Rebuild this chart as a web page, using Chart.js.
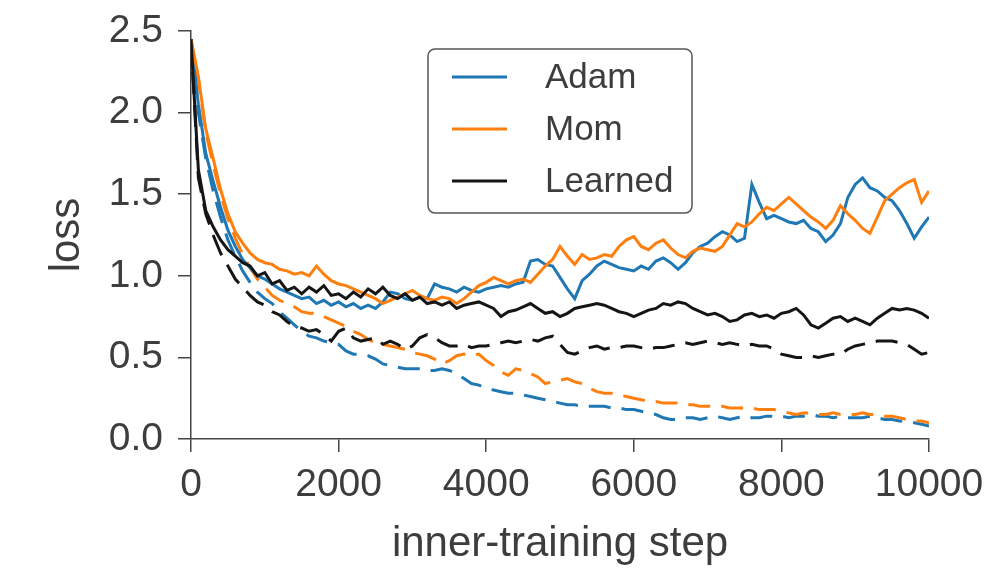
<!DOCTYPE html>
<html>
<head>
<meta charset="utf-8">
<script src="https://cdn.jsdelivr.net/npm/chart.js@4.4.1/dist/chart.umd.min.js"></script>
<style>
  html, body { margin: 0; padding: 0; background: #fff; }
  #wrap { width: 996px; height: 570px; }
</style>
</head>
<body>
<div id="wrap"><canvas id="lossChart" width="996" height="570"></canvas></div>
<script>
// inner-training steps (every 100 steps)
var steps = [
  0, 100, 200, 300, 400, 500, 600, 700, 800, 900,
  1000, 1100, 1200, 1300, 1400, 1500, 1600, 1700, 1800, 1900,
  2000, 2100, 2200, 2300, 2400, 2500, 2600, 2700, 2800, 2900,
  3000, 3100, 3200, 3300, 3400, 3500, 3600, 3700, 3800, 3900,
  4000, 4100, 4200, 4300, 4400, 4500, 4600, 4700, 4800, 4900,
  5000, 5100, 5200, 5300, 5400, 5500, 5600, 5700, 5800, 5900,
  6000, 6100, 6200, 6300, 6400, 6500, 6600, 6700, 6800, 6900,
  7000, 7100, 7200, 7300, 7400, 7500, 7600, 7700, 7800, 7900,
  8000, 8100, 8200, 8300, 8400, 8500, 8600, 8700, 8800, 8900,
  9000, 9100, 9200, 9300, 9400, 9500, 9600, 9700, 9800, 9900,
  10000
];

var adamSolid = [
  2.45, 2.05, 1.75, 1.58, 1.42, 1.28, 1.18, 1.10, 1.05, 1.00,
  0.98, 0.95, 0.92, 0.90, 0.88, 0.86, 0.87, 0.83, 0.85, 0.82,
  0.84, 0.81, 0.83, 0.80, 0.82, 0.80, 0.84, 0.90, 0.89, 0.86,
  0.85, 0.87, 0.86, 0.95, 0.93, 0.92, 0.90, 0.93, 0.91, 0.90,
  0.92, 0.93, 0.94, 0.93, 0.95, 0.96, 1.09, 1.10, 1.07, 1.06,
  0.99, 0.92, 0.86, 0.97, 1.01, 1.06, 1.09, 1.07, 1.05, 1.04,
  1.03, 1.06, 1.04, 1.09, 1.11, 1.08, 1.04, 1.08, 1.14, 1.18,
  1.20, 1.24, 1.27, 1.25, 1.21, 1.23, 1.56, 1.45, 1.35, 1.37,
  1.35, 1.33, 1.32, 1.34, 1.29, 1.27, 1.21, 1.25, 1.32, 1.48,
  1.56, 1.60, 1.54, 1.52, 1.48, 1.46, 1.40, 1.32, 1.23, 1.30,
  1.36
];

var momSolid = [
  2.45, 2.22, 1.90, 1.72, 1.53, 1.38, 1.27, 1.20, 1.14, 1.10,
  1.08, 1.07, 1.04, 1.03, 1.01, 1.02, 1.00, 1.06, 1.01, 0.97,
  0.95, 0.94, 0.92, 0.90, 0.88, 0.86, 0.83, 0.85, 0.87, 0.89,
  0.91, 0.88, 0.86, 0.85, 0.87, 0.86, 0.83, 0.86, 0.90, 0.94,
  0.96, 0.99, 0.97, 0.95, 0.97, 0.98, 0.96, 1.01, 1.06, 1.10,
  1.18, 1.12, 1.07, 1.13, 1.10, 1.11, 1.13, 1.12, 1.18, 1.22,
  1.24, 1.18, 1.16, 1.20, 1.22, 1.17, 1.13, 1.11, 1.15, 1.17,
  1.16, 1.15, 1.18, 1.25, 1.32, 1.30, 1.33, 1.38, 1.42, 1.40,
  1.44, 1.48, 1.44, 1.40, 1.36, 1.33, 1.29, 1.34, 1.43, 1.38,
  1.34, 1.29, 1.26, 1.36, 1.46, 1.50, 1.54, 1.57, 1.59, 1.45,
  1.52
];

var learnedSolid = [
  2.45, 1.65, 1.40, 1.30, 1.22, 1.16, 1.12, 1.08, 1.06, 1.00,
  1.02, 0.95, 0.97, 0.91, 0.93, 0.89, 0.93, 0.90, 0.94, 0.88,
  0.89, 0.86, 0.90, 0.87, 0.92, 0.89, 0.93, 0.88, 0.86, 0.89,
  0.85, 0.87, 0.83, 0.84, 0.82, 0.84, 0.80, 0.82, 0.83, 0.84,
  0.82, 0.80, 0.75, 0.78, 0.79, 0.81, 0.83, 0.80, 0.77, 0.78,
  0.75, 0.77, 0.80, 0.81, 0.82, 0.83, 0.82, 0.80, 0.78, 0.77,
  0.75, 0.77, 0.79, 0.80, 0.83, 0.82, 0.84, 0.83, 0.80, 0.78,
  0.76, 0.77, 0.75, 0.72, 0.73, 0.76, 0.77, 0.75, 0.76, 0.74,
  0.77, 0.78, 0.80, 0.76, 0.70, 0.68, 0.71, 0.74, 0.75, 0.72,
  0.74, 0.72, 0.70, 0.74, 0.77, 0.80, 0.79, 0.80, 0.79, 0.77,
  0.74
];

var adamDashed = [
  2.45, 2.00, 1.72, 1.52, 1.36, 1.22, 1.12, 1.03, 0.96, 0.90,
  0.86, 0.83, 0.78, 0.74, 0.70, 0.66, 0.63, 0.62, 0.60, 0.59,
  0.58, 0.54, 0.52, 0.52, 0.51, 0.49, 0.46, 0.45, 0.44, 0.43,
  0.43, 0.43, 0.42, 0.42, 0.43, 0.42, 0.40, 0.37, 0.34, 0.33,
  0.31, 0.30, 0.29, 0.28, 0.28, 0.27, 0.26, 0.25, 0.24, 0.23,
  0.22, 0.21, 0.21, 0.20, 0.20, 0.20, 0.20, 0.19, 0.19, 0.18,
  0.18, 0.17, 0.16, 0.15, 0.13, 0.12, 0.12, 0.13, 0.13, 0.12,
  0.13, 0.14, 0.13, 0.12, 0.13, 0.14, 0.13, 0.13, 0.14, 0.14,
  0.14, 0.13, 0.14, 0.14, 0.15, 0.14, 0.14, 0.13, 0.14, 0.13,
  0.13, 0.13, 0.14, 0.13, 0.12, 0.12, 0.11, 0.11, 0.10, 0.09,
  0.08
];

var momDashed = [
  2.45, 2.20, 1.88, 1.68, 1.50, 1.35, 1.23, 1.13, 1.05, 0.98,
  0.93, 0.88, 0.85, 0.83, 0.81, 0.78, 0.77, 0.77, 0.75, 0.73,
  0.71, 0.69, 0.66, 0.64, 0.61, 0.59, 0.58, 0.57, 0.56, 0.55,
  0.53, 0.52, 0.51, 0.49, 0.46, 0.48, 0.51, 0.52, 0.51, 0.52,
  0.48, 0.45, 0.41, 0.39, 0.43, 0.42, 0.40, 0.38, 0.34, 0.35,
  0.36, 0.37, 0.35, 0.34, 0.31, 0.29, 0.28, 0.28, 0.27, 0.26,
  0.25, 0.24, 0.23, 0.23, 0.22, 0.22, 0.22, 0.21, 0.21, 0.20,
  0.20, 0.20, 0.20, 0.19, 0.19, 0.19, 0.19, 0.18, 0.18, 0.18,
  0.17, 0.16, 0.15, 0.16, 0.16, 0.15, 0.15, 0.16, 0.15, 0.15,
  0.15, 0.16, 0.15, 0.15, 0.14, 0.14, 0.13, 0.12, 0.11, 0.11,
  0.10
];

var learnedDashed = [
  2.45, 1.60, 1.38, 1.25, 1.14, 1.06, 0.98, 0.93, 0.88, 0.84,
  0.82, 0.78, 0.76, 0.72, 0.69, 0.68, 0.66, 0.67, 0.64, 0.60,
  0.66, 0.68, 0.62, 0.60, 0.61, 0.62, 0.58, 0.60, 0.58, 0.55,
  0.57, 0.62, 0.64, 0.62, 0.59, 0.57, 0.57, 0.58, 0.56, 0.57,
  0.57, 0.58, 0.59, 0.60, 0.59, 0.60, 0.61, 0.60, 0.62, 0.63,
  0.58, 0.53, 0.52, 0.54, 0.56, 0.57, 0.55, 0.56, 0.56, 0.57,
  0.57, 0.56, 0.55, 0.56, 0.56, 0.57, 0.58, 0.59, 0.58, 0.59,
  0.60, 0.59, 0.58, 0.59, 0.58, 0.57, 0.58, 0.57, 0.57, 0.55,
  0.52, 0.51, 0.50, 0.50, 0.51, 0.50, 0.51, 0.52, 0.52, 0.55,
  0.57, 0.58, 0.59, 0.60, 0.60, 0.60, 0.59, 0.58, 0.55, 0.52,
  0.53
];

var xTicks = [0, 2000, 4000, 6000, 8000, 10000];
var yTicks = [0, 0.5, 1.0, 1.5, 2.0, 2.5];

var BLUE = "#1f77b4";
var ORANGE = "#ff7f0e";
var BLACK = "#151515";
var AXIS = "#444444";
var TEXT = "#3d3d3d";
var FONT = "'Liberation Sans', Arial, Helvetica, sans-serif";

function pts(vals) {
    return vals.map(function (v, i) { return { x: steps[i], y: v }; });
}

function line(label, vals, color, dashed, order) {
    return {
        label: label,
        data: pts(vals),
        borderColor: color,
        backgroundColor: color,
        borderWidth: 3,
        borderDash: dashed ? [22, 11] : [],
        pointRadius: 0,
        tension: 0,
        fill: false,
        order: order,
    };
}

// draws the boxed legend in the upper middle of the plot
var boxLegend = {
    id: "boxLegend",
    afterDatasetsDraw: function (chart) {
        var ctx = chart.ctx;
        var a = chart.chartArea;
        var x0 = a.left + 237, y0 = a.top + 18, w = 264, h = 164, r = 7;
        ctx.save();
        ctx.beginPath();
        ctx.moveTo(x0 + r, y0);
        ctx.arcTo(x0 + w, y0, x0 + w, y0 + h, r);
        ctx.arcTo(x0 + w, y0 + h, x0, y0 + h, r);
        ctx.arcTo(x0, y0 + h, x0, y0, r);
        ctx.arcTo(x0, y0, x0 + w, y0, r);
        ctx.closePath();
        ctx.fillStyle = "#ffffff";
        ctx.fill();
        ctx.lineWidth = 1.5;
        ctx.strokeStyle = "#555555";
        ctx.stroke();

        ctx.font = "35px " + FONT;
        ctx.textBaseline = "middle";
        ctx.textAlign = "left";
        for (var i = 0; i < 3; i++) {
            var ds = chart.data.datasets[i];
            var yy = y0 + 28 + i * 52;
            ctx.beginPath();
            ctx.setLineDash([]);
            ctx.lineWidth = 3;
            ctx.strokeStyle = ds.borderColor;
            ctx.moveTo(x0 + 24, yy);
            ctx.lineTo(x0 + 79, yy);
            ctx.stroke();
            ctx.fillStyle = TEXT;
            ctx.fillText(ds.label, x0 + 117, yy + 1);
        }
        ctx.restore();
    },
};

var ctx = document.getElementById("lossChart").getContext("2d");
var lossChart = new Chart(ctx, {
    type: "line",
    data: {
        datasets: [
            line("Adam", adamSolid, BLUE, false, 2),
            line("Mom", momSolid, ORANGE, false, 1),
            line("Learned", learnedSolid, BLACK, false, 0),
            line("Adam (dashed)", adamDashed, BLUE, true, 5),
            line("Mom (dashed)", momDashed, ORANGE, true, 4),
            line("Learned (dashed)", learnedDashed, BLACK, true, 3),
        ],
    },
    options: {
        responsive: false,
        animation: false,
        events: [],
        layout: { padding: { top: 31, right: 67, bottom: 0, left: 0 } },
        plugins: {
            legend: { display: false },
            tooltip: { enabled: false },
        },
        scales: {
            x: {
                type: "linear",
                min: 0,
                max: 10000,
                afterBuildTicks: function (axis) {
                    axis.ticks = xTicks.map(function (v) { return { value: v }; });
                },
                ticks: {
                    color: TEXT,
                    font: { family: FONT, size: 39 },
                    padding: 10,
                    maxRotation: 0,
                    callback: function (v) { return String(v); },
                },
                grid: { drawOnChartArea: false, drawTicks: true, tickLength: 13, color: AXIS, lineWidth: 1.5 },
                border: { display: true, color: AXIS, width: 1.5 },
                title: {
                    display: true,
                    text: "inner-training step",
                    color: TEXT,
                    font: { family: FONT, size: 42 },
                    padding: { top: 0, bottom: 0 },
                },
                afterFit: function (axis) {
                    axis.height = 131;
                    axis.paddingLeft = 0;
                    axis.paddingRight = 0;
                },
            },
            y: {
                min: 0,
                max: 2.5,
                afterBuildTicks: function (axis) {
                    axis.ticks = yTicks.map(function (v) { return { value: v }; });
                },
                ticks: {
                    color: TEXT,
                    font: { family: FONT, size: 39 },
                    padding: 15,
                    callback: function (v) { return v.toFixed(1); },
                },
                grid: { drawOnChartArea: false, drawTicks: true, tickLength: 13, color: AXIS, lineWidth: 1.5 },
                border: { display: true, color: AXIS, width: 1.5 },
                title: {
                    display: true,
                    text: "loss",
                    color: TEXT,
                    font: { family: FONT, size: 42 },
                    padding: { top: 42, bottom: 0 },
                },
                afterFit: function (axis) {
                    axis.width = 191;
                    axis.paddingTop = 0;
                    axis.paddingBottom = 0;
                },
            },
        },
    },
    plugins: [boxLegend],
});
</script>
</body>
</html>
